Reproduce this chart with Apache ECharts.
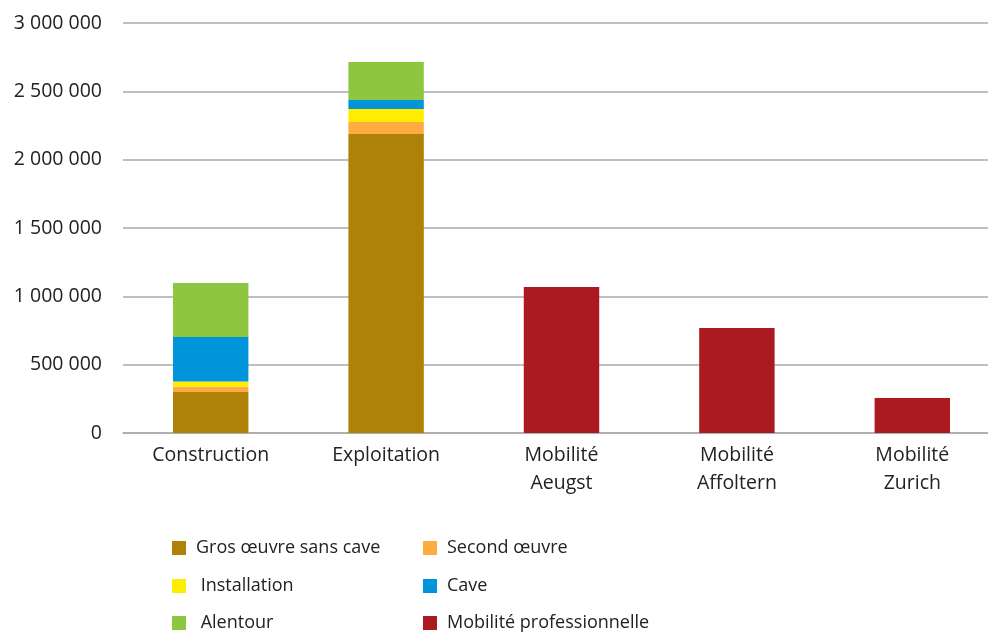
<!DOCTYPE html>
<html>
<head>
<meta charset="utf-8">
<script src="https://cdn.jsdelivr.net/npm/echarts@6/dist/echarts.min.js"></script>
<style>html,body{margin:0;padding:0;background:#fff;overflow:hidden}#c{width:1000px;height:632px}</style>
</head>
<body>
<div id="c"></div>
<script>
var categories = ['Construction', 'Exploitation', 'Mobilité\nAeugst', 'Mobilité\nAffoltern', 'Mobilité\nZurich'];
var grosOeuvre = [300000, 2187000, '-', '-', '-'];
var secondOeuvre = [39000, 88000, '-', '-', '-'];
var installation = [37000, 95000, '-', '-', '-'];
var cave = [327000, 66000, '-', '-', '-'];
var alentour = [395000, 278000, '-', '-', '-'];
var mobilite = ['-', '-', 1068000, 768000, 256000];
var yTicks = {min: 0, max: 3000000, interval: 500000};

var names = ['Gros œuvre sans cave', 'Second œuvre', ' Installation', 'Cave', ' Alentour', 'Mobilité professionnelle'];
var colors = ['#AD8206', '#FDAD3F', '#FFED00', '#0095DA', '#8DC641', '#AB1A20'];
var datas = [grosOeuvre, secondOeuvre, installation, cave, alentour, mobilite];

var font = 'Open Sans';
var series = names.map(function (n, i) {
  return {
    name: n, type: 'bar', stack: 'total', data: datas[i],
    barWidth: '43%', itemStyle: {color: colors[i]}
  };
});

var legendPos = [[172, 548], [423, 548], [172, 586], [423, 586], [172, 623], [423, 623]];
var legends = names.map(function (n, i) {
  return {
    left: legendPos[i][0], top: legendPos[i][1] - 10.5, data: [n],
    orient: 'horizontal', itemWidth: 14, itemHeight: 14,
    icon: 'rect', selectedMode: false, padding: 0,
    textStyle: {fontFamily: font, fontSize: 18, color: '#222', lineHeight: 21, padding: [0, 0, 0, 5]}
  };
});

var chart = echarts.init(document.getElementById('c'));
chart.setOption({
  animation: false,
  color: colors,
  grid: {left: 123, top: 23, right: 0, bottom: 199, containLabel: false},
  legend: legends,
  xAxis: {
    type: 'category', data: categories,
    axisLine: {lineStyle: {color: '#aaa', width: 1.5}},
    axisTick: {show: false},
    axisLabel: {fontFamily: font, fontSize: 19.5, color: '#222', lineHeight: 28, margin: 8, interval: 0}
  },
  yAxis: {
    type: 'value', min: yTicks.min, max: yTicks.max, interval: yTicks.interval,
    axisLine: {show: false}, axisTick: {show: false},
    splitLine: {lineStyle: {color: '#aaa', width: 1.5}},
    axisLabel: {
      fontFamily: font, fontSize: 19.5, color: '#222', margin: 21,
      formatter: function (v) { return String(v).replace(/\B(?=(\d{3})+(?!\d))/g, ' '); }
    }
  },
  series: series
});
</script>
</body>
</html>
